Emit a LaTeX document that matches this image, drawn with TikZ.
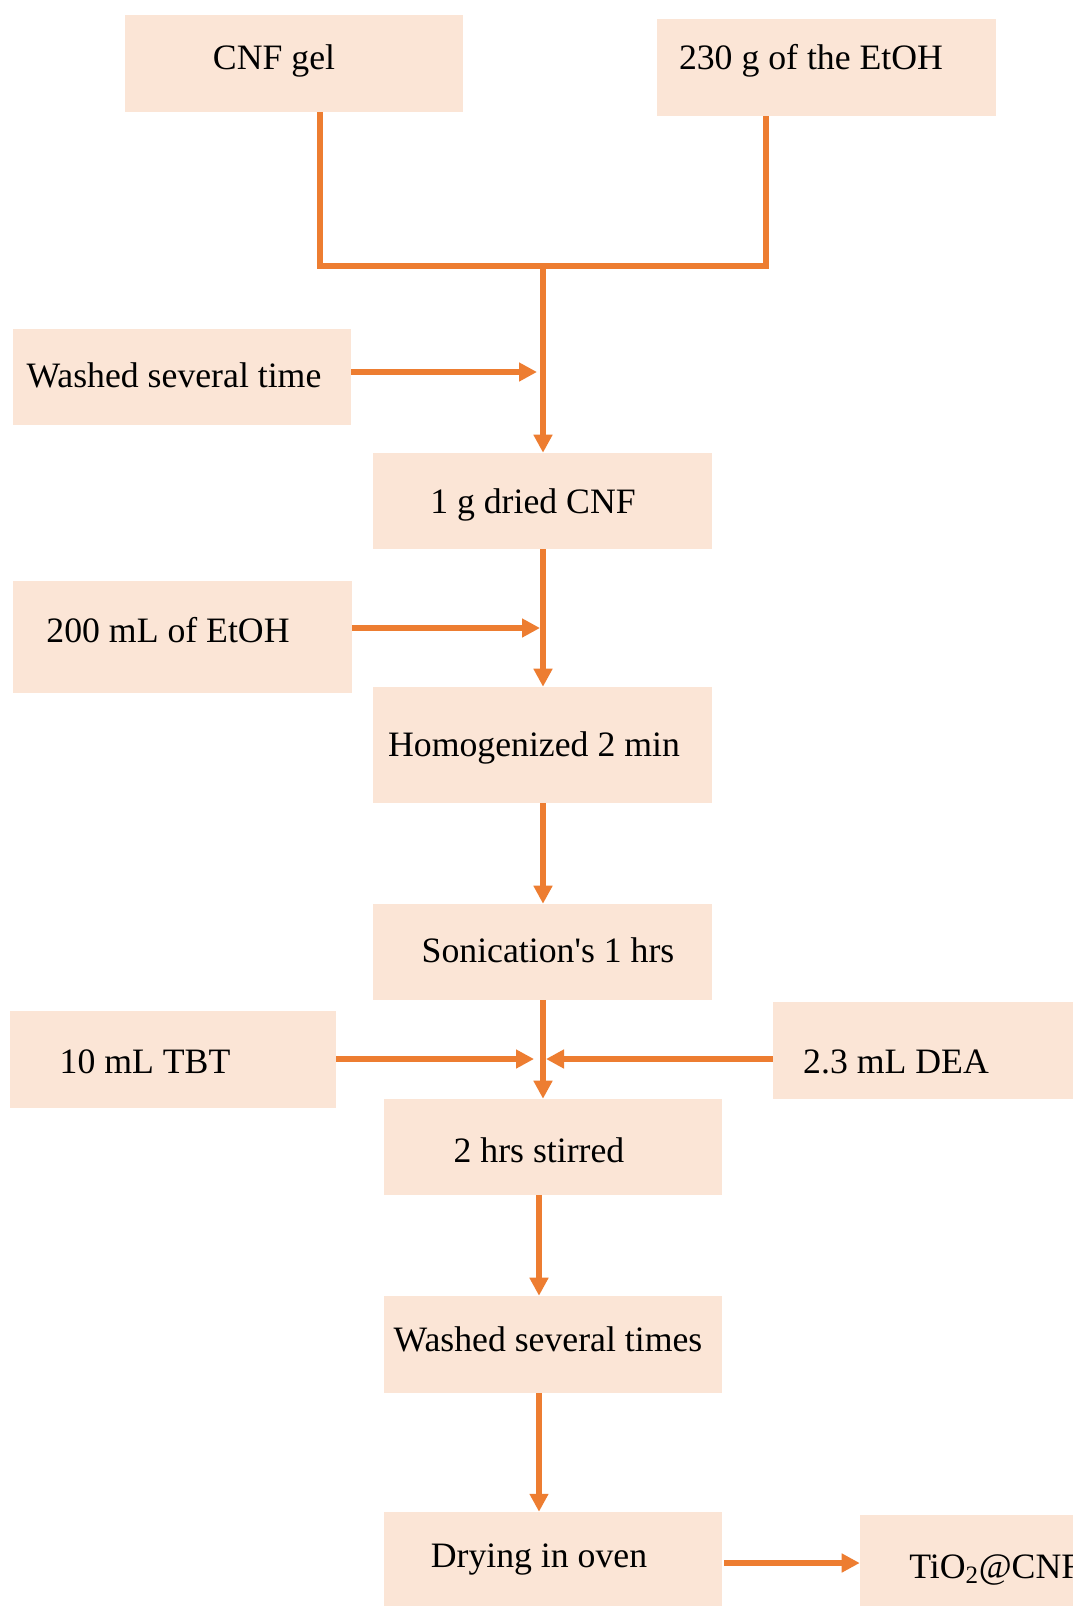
\documentclass[tikz,border=0pt]{standalone}
\usepackage{fontspec}
\setmainfont{Liberation Serif}
\usetikzlibrary{arrows.meta}
\definecolor{boxfill}{HTML}{FBE5D6}
\definecolor{flow}{HTML}{ED7D31}
\begin{document}
\begin{tikzpicture}[x=0.75pt,y=-0.75pt,
  pbox/.style 2 args={draw=none,fill=boxfill,inner sep=0pt,minimum width=#1*0.75pt,minimum height=#2*0.75pt},
  txt/.style={inner sep=0pt,yshift=-2.8pt,font=\fontsize{26.8}{30}\selectfont},
  wire/.style={draw=flow,line width=3.9pt},
  bar/.style={draw=flow,line width=4.8pt},
  arrow/.style={draw=flow,line width=3.9pt,-{Triangle[length=13.5pt,width=13.5pt]}}]
\useasboundingbox (0,0) rectangle (1073,1606);
\clip (0,0) rectangle (1073,1606);
\fill[white] (0,0) rectangle (1073,1606);
% boxes
\node[pbox={338}{97}] (cnf) at (294,63.5) {};
\node[pbox={339}{97}] (etoh) at (826.5,67.5) {};
\node[pbox={338}{96}] (wash1) at (182,377) {};
\node[pbox={339}{96}] (dried) at (542.5,501) {};
\node[pbox={339}{112}] (etoh200) at (182.5,637) {};
\node[pbox={339}{116}] (homog) at (542.5,745) {};
\node[pbox={339}{96}] (sonic) at (542.5,952) {};
\node[pbox={326}{97}] (tbt) at (173,1059.5) {};
\node[pbox={340}{97}] (dea) at (943,1050.5) {};
\node[pbox={338}{96}] (stirred) at (553,1147) {};
\node[pbox={338}{97}] (wash2) at (553,1344.5) {};
\node[pbox={338}{96}] (dry) at (553,1560) {};
\node[pbox={340}{96}] (tio2) at (1030,1563) {};
% texts
\node[txt] (tcnf) at (274,57) {CNF gel};
\node[txt] (tetoh) at (811,57) {230 g of the EtOH};
\node[txt] (twash1) at (174,372) {Washed several time};
\node[txt] (tdried) at (533,501) {1 g dried CNF};
\node[txt] (tetoh200) at (168,626) {200 mL of EtOH};
\node[txt] (thomog) at (534,744) {Homogenized 2 min};
\node[txt] (tsonic) at (548,947) {Sonication\textquotesingle s 1 hrs};
\node[txt] (ttbt) at (145,1058) {10 mL TBT};
\node[txt] (tdea) at (896,1058) {2.3 mL DEA};
\node[txt] (tstirred) at (539,1147) {2 hrs stirred};
\node[txt] (twash2) at (548,1336) {Washed several times};
\node[txt] (tdry) at (539,1556) {Drying in oven};
\node[txt,anchor=west] (ttio2) at (909,1566) {TiO\textsubscript{2}@CNF};
% helper coordinates
\coordinate (xl) at (320,266);
\coordinate (xr) at (766,266);
\coordinate (join) at (543,266);
\coordinate (m1) at (537,372);
\coordinate (m2) at (540,628);
\coordinate (m3) at (534,1059);
\coordinate (m4) at (546,1059);
\coordinate (colA) at (543,1000);
\coordinate (colB) at (539,1195);
% connectors
\draw[wire] (cnf.south -| xl) -- (xl);
\draw[wire] (etoh.south -| xr) -- (xr);
\draw[bar] ([xshift=-1.9pt]xl) -- ([xshift=1.9pt]xr);
\draw[arrow] (join) -- (join |- dried.north);
\draw[arrow] (wash1.east |- m1) -- (m1);
\draw[arrow] (dried.south -| join) -- (homog.north -| join);
\draw[arrow] (etoh200.east |- m2) -- (m2);
\draw[arrow] (homog.south -| join) -- (sonic.north -| join);
\draw[arrow] (sonic.south -| colA) -- (stirred.north -| colA);
\draw[arrow] (tbt.east |- m3) -- (m3);
\draw[arrow] (dea.west |- m4) -- (m4);
\draw[arrow] (stirred.south -| colB) -- (wash2.north -| colB);
\draw[arrow] (wash2.south -| colB) -- (dry.north -| colB);
\draw[arrow] ([xshift=1.5pt]dry.east |- tio2.west) -- (tio2.west);
\end{tikzpicture}
\end{document}
